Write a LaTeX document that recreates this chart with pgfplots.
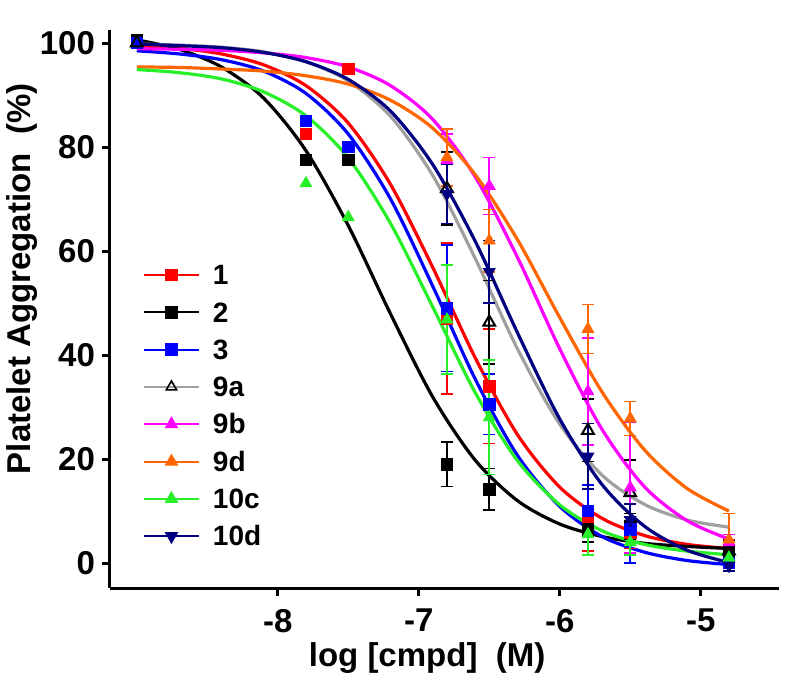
\documentclass[border=0pt]{standalone}
\usepackage{fontspec}
\setmainfont{Liberation Sans}
\setsansfont{Liberation Sans}
\usepackage{pgfplots}
\pgfplotsset{compat=1.18}

\definecolor{cRed}{RGB}{255,0,0}
\definecolor{cBlue}{RGB}{0,0,255}
\definecolor{cGray}{RGB}{160,160,160}
\definecolor{cMag}{RGB}{255,0,255}
\definecolor{cOrg}{RGB}{255,102,0}
\definecolor{cGrn}{RGB}{40,240,40}
\definecolor{cNavy}{RGB}{0,0,128}

\pgfplotsset{
  curve/.style={line width=1.6pt, smooth, no marks, forget plot},
  pts/.style={only marks, forget plot, mark size=2.9pt,
    error bars/y dir=both, error bars/y explicit,
    error bars/error bar style={line width=0.8pt, #1},
    error bars/error mark options={rotate=90, mark size=3pt, line width=0.8pt, #1}},
}

\begin{document}
\begin{tikzpicture}
\begin{axis}[
  scale only axis, width=334.5pt, height=279pt,
  xmin=-9.19, xmax=-4.445, ymin=-4.8, ymax=102.5,
  axis x line*=bottom, axis y line*=left,
  axis line style={line width=1.5pt},
  xtick={-8,-7,-6,-5}, xticklabels={-8,-7,-6,-5},
  ytick={0,20,40,60,80,100},
  tick align=outside, major tick length=4pt,
  tick style={line width=1.5pt, black},
  /pgf/number format/assume math mode=true,
  tick label style={font=\fontsize{16.5}{19}\selectfont\bfseries},
  xticklabel style={yshift=-3pt},
  xlabel={log [cmpd]\ \ (M)},
  ylabel={Platelet Aggregation\ \ (\%)},
  label style={font=\fontsize{16.5}{19}\selectfont\bfseries},
  xlabel style={at={(axis description cs:0.474,-0.1254)}, anchor=center},
  ylabel style={at={(axis description cs:-0.1315,0.554)}, anchor=center},
  legend image code/.code={
    \path[draw=none, fill=none] (0pt,0pt) -- (34.5pt,0pt);
    \draw[#1, mark repeat=2, mark phase=2] plot coordinates {(0pt,0pt) (13.75pt,0pt) (27.5pt,0pt)};
  },
  legend style={draw=none, fill=none, at={(axis description cs:0.0493,0.5783)}, anchor=north west,
    inner sep=0pt, outer sep=0pt, row sep=8.95pt, column sep=0pt,
    font=\fontsize{14}{14}\selectfont\bfseries,
    nodes={inner sep=0pt, text height=9.7pt, text depth=0pt}},
  legend cell align=left,
]
\coordinate (bbSW) at (rel axis cs:-0.1644,-0.172);
\coordinate (bbNE) at (rel axis cs:1.0105,1.0538);

% fitted curves
\addplot[curve, cRed] coordinates {(-9,99.5)(-8.7,99.0)(-8.4,97.9)(-8.1,95.8)(-7.8,91.8)(-7.5,84.6)(-7.2,72.8)(-6.9,56.8)(-6.6,39.5)(-6.3,24.7)(-6.0,14.6)(-5.7,8.6)(-5.4,5.3)(-5.1,3.6)(-4.8,2.8)};
\addplot[curve, black] coordinates {(-9,100.6)(-8.7,98.8)(-8.4,95.4)(-8.1,89.4)(-7.8,79.3)(-7.5,64.9)(-7.2,47.9)(-6.9,31.9)(-6.6,19.8)(-6.3,12.0)(-6.0,7.5)(-5.7,5.1)(-5.4,3.8)(-5.1,3.2)(-4.8,2.8)};
\addplot[curve, cBlue] coordinates {(-9,98.5)(-8.7,97.9)(-8.4,96.8)(-8.1,94.6)(-7.8,90.3)(-7.5,82.5)(-7.2,70.0)(-6.9,53.2)(-6.6,35.4)(-6.3,20.7)(-6.0,10.9)(-5.7,5.1)(-5.4,2.1)(-5.1,0.5)(-4.8,-0.3)};
\addplot[curve, cGray] coordinates {(-9,99.8)(-8.7,99.6)(-8.4,99.2)(-8.1,98.3)(-7.8,96.4)(-7.5,92.7)(-7.2,85.9)(-6.9,74.5)(-6.6,58.6)(-6.3,41.2)(-6.0,26.7)(-5.7,16.9)(-5.4,11.3)(-5.1,8.3)(-4.8,6.9)};
\addplot[curve, cMag] coordinates {(-9,98.9)(-8.7,98.8)(-8.4,98.6)(-8.1,98.1)(-7.8,97.2)(-7.5,95.4)(-7.2,91.8)(-6.9,85.3)(-6.6,74.3)(-6.3,58.8)(-6.0,41.2)(-5.7,25.7)(-5.4,14.7)(-5.1,8.2)(-4.8,4.6)};
\addplot[curve, cOrg] coordinates {(-9,95.4)(-8.7,95.3)(-8.4,95.0)(-8.1,94.6)(-7.8,93.7)(-7.5,92.1)(-7.2,89.0)(-6.9,83.6)(-6.6,74.7)(-6.3,62.2)(-6.0,47.2)(-5.7,32.9)(-5.4,21.8)(-5.1,14.4)(-4.8,10.0)};
\addplot[curve, cGrn] coordinates {(-9,94.9)(-8.7,94.3)(-8.4,93.1)(-8.1,90.6)(-7.8,86.0)(-7.5,77.9)(-7.2,65.3)(-6.9,49.2)(-6.6,32.8)(-6.3,19.7)(-6.0,11.2)(-5.7,6.2)(-5.4,3.6)(-5.1,2.3)(-4.8,1.6)};
\addplot[curve, cNavy] coordinates {(-9,99.8)(-8.7,99.5)(-8.4,99.1)(-8.1,98.2)(-7.8,96.4)(-7.5,93.0)(-7.2,86.9)(-6.9,76.6)(-6.6,61.9)(-6.3,44.3)(-6.0,27.7)(-5.7,15.1)(-5.4,7.1)(-5.1,2.5)(-4.8,0.1)};

% measured points
\addplot[only marks, forget plot, cRed, mark=square*, mark size=2.9pt] coordinates {(-9,100)(-7.8,82.5)(-7.5,95)};
\addplot[cRed, mark=square*, pts=cRed] coordinates {(-6.8,47) +- (0,14.5) (-6.5,34) +- (0,11) (-5.8,8.3) +- (0,6) (-5.5,5.8) +- (0,3) (-4.8,2.5) +- (0,2)};
\addplot[only marks, forget plot, black, mark=square*, mark size=2.9pt] coordinates {(-9,100.5)(-7.8,77.5)(-7.5,77.5)};
\addplot[black, mark=square*, pts=black] coordinates {(-6.8,19) +- (0,4.3) (-6.5,14.2) +- (0,4) (-5.8,6.5) +- (0,2.5) (-5.5,7) +- (0,2.5) (-4.8,2) +- (0,1.5)};
\addplot[only marks, forget plot, cBlue, mark=square*, mark size=2.9pt] coordinates {(-9,100)(-7.8,85)(-7.5,80)};
\addplot[cBlue, mark=square*, pts=cBlue] coordinates {(-6.8,49) +- (0,12.2) (-6.5,30.5) +- (0,5.8) (-5.8,10) +- (0,5) (-5.5,6.5) +- (0,6.5) (-4.8,0) +- (0,1)};
\addplot[only marks, forget plot, mark=triangle, mark size=3.4pt, mark options={draw=black, fill=white, line width=1pt}] coordinates {(-9,100)};
\addplot[black, mark=triangle, pts=black, mark size=3.4pt, mark options={draw=black, fill=white, line width=1pt}] coordinates {(-6.8,72) +- (0,7) (-6.5,46.3) +- (0,8) (-5.8,25.5) +- (0,6) (-5.5,13.5) +- (0,6.3) (-4.8,2.3) +- (0,2)};
\addplot[cMag, mark=triangle*, pts=cMag, mark size=3.4pt] coordinates {(-6.8,77.5) +- (0,5) (-6.5,72.5) +- (0,5.5) (-5.8,33) +- (0,10.3) (-5.5,14.5) +- (0,12.6) (-4.8,4) +- (0,1.5)};
\addplot[cOrg, mark=triangle*, pts=cOrg, mark size=3.4pt] coordinates {(-6.8,78) +- (0,5.5) (-6.5,62) +- (0,6) (-5.8,45) +- (0,4.7) (-5.5,27.8) +- (0,3.3) (-4.8,4.5) +- (0,5)};
\addplot[only marks, forget plot, cGrn, mark=triangle*, mark size=3.4pt] coordinates {(-7.8,73)(-7.5,66.5)};
\addplot[cGrn, mark=triangle*, pts=cGrn, mark size=3.4pt] coordinates {(-6.8,46.8) +- (0,10.5) (-6.5,28) +- (0,11) (-5.8,5.5) +- (0,4) (-5.5,4) +- (0,2.5) (-4.8,1) +- (0,1)};
\addplot[cNavy, mark=triangle*, pts=cNavy, mark size=3.4pt, mark options={rotate=180}] coordinates {(-6.8,71) +- (0,5.7) (-6.5,56) +- (0,6) (-5.8,20.5) +- (0,6.3) (-5.5,8.3) +- (0,3) (-4.8,-0.5) +- (0,1)};

% legend
\addlegendimage{cRed, line width=1pt, mark=square*, mark size=2.7pt}
\addlegendentry{1}
\addlegendimage{black, line width=1pt, mark=square*, mark size=2.7pt}
\addlegendentry{2}
\addlegendimage{cBlue, line width=1pt, mark=square*, mark size=2.7pt}
\addlegendentry{3}
\addlegendimage{cGray, line width=1pt, mark=triangle, mark size=3pt, mark options={draw=black, fill=white, line width=0.8pt}}
\addlegendentry{9a}
\addlegendimage{cMag, line width=1pt, mark=triangle*, mark size=3pt}
\addlegendentry{9b}
\addlegendimage{cOrg, line width=1pt, mark=triangle*, mark size=3pt}
\addlegendentry{9d}
\addlegendimage{cGrn, line width=1pt, mark=triangle*, mark size=3pt}
\addlegendentry{10c}
\addlegendimage{cNavy, line width=1pt, mark=triangle*, mark size=3pt, mark options={rotate=180}}
\addlegendentry{10d}
\end{axis}
\pgfresetboundingbox
\useasboundingbox (bbSW) rectangle (bbNE);
\end{tikzpicture}
\end{document}
